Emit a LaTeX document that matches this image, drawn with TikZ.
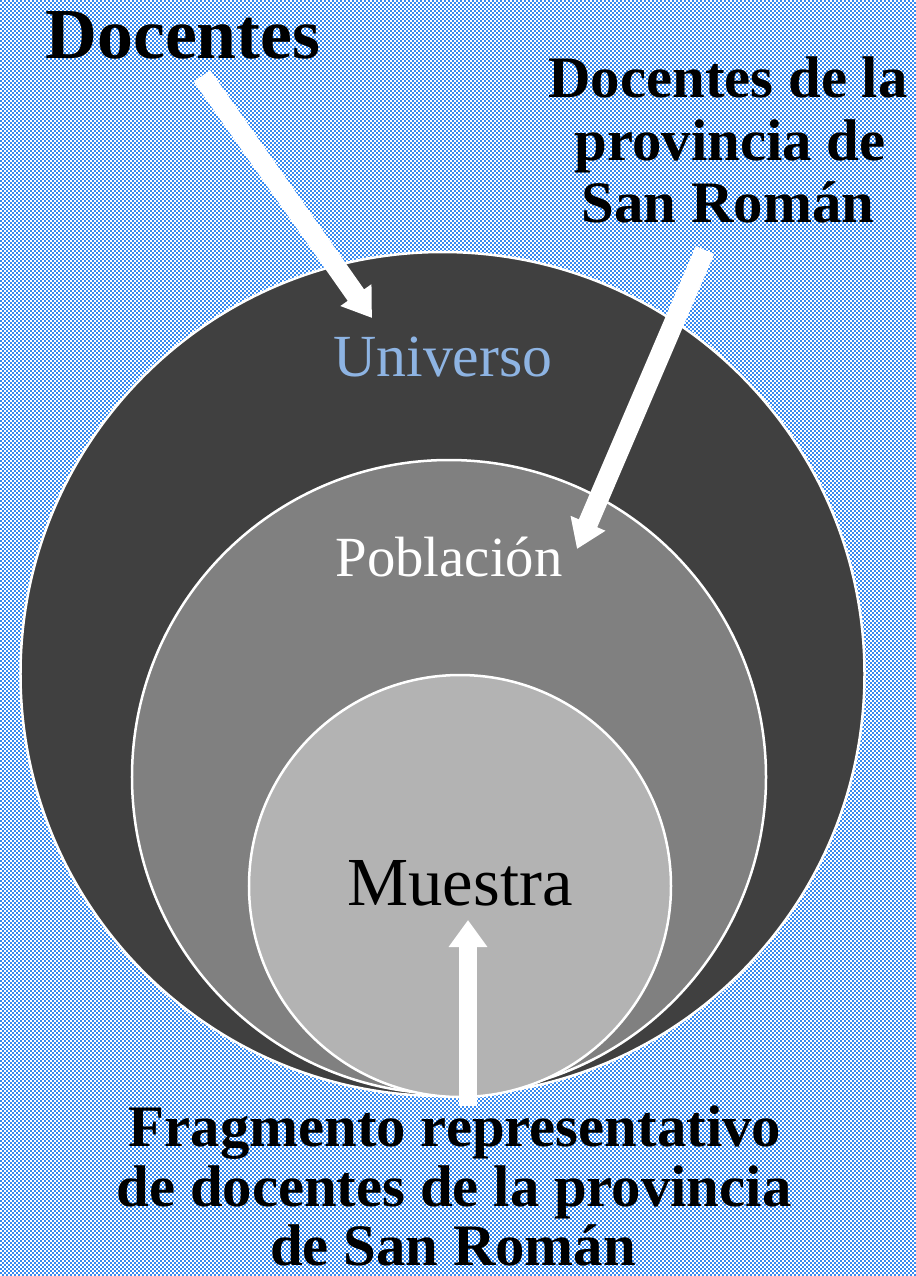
\documentclass[tikz,border=0pt]{standalone}
\usepackage{fontspec}
\setmainfont{Liberation Serif}
\usetikzlibrary{arrows.meta}
\definecolor{bgblue}{RGB}{55,138,240}
\definecolor{darkc}{RGB}{64,64,64}
\definecolor{midc}{RGB}{128,128,128}
\definecolor{lightc}{RGB}{179,179,179}
\definecolor{unicol}{RGB}{142,180,227}
\begin{document}
\begin{tikzpicture}[x=1bp,y=-1bp,
  ring/.style={circle, draw=white, line width=2.5bp, inner sep=0pt},
  lbl/.style={anchor=base, inner sep=0pt},
  bigbold/.style={lbl, font=\fontsize{72}{86}\selectfont\bfseries},
  sidebold/.style={lbl, font=\fontsize{59}{70}\selectfont\bfseries},
  botbold/.style={lbl, font=\fontsize{59}{70}\selectfont\bfseries},
  checkrow/.style={bgblue, line width=2bp, line cap=butt, dash pattern=on 2bp off 2bp},
  blockarrow/.style={draw=white, fill=white, line width=20bp, -{Triangle[width=36bp,length=28bp]}}
]
\useasboundingbox (0,0) rectangle (916,1276);
\fill[white] (0,0) rectangle (916,1276);
% checkerboard background
\foreach \i in {0,...,637}{
  \pgfmathtruncatemacro\ph{mod(\i,2)*2}
  \draw[checkrow, dash phase=\ph bp] (0,2*\i+1) -- (916,2*\i+1);
}

% circles
\node[ring, fill=darkc, minimum size=844bp] (universo) at (442.5,674) {};
\node[ring, fill=midc, minimum size=634bp] (poblacion) at (449,777) {};
\node[ring, fill=lightc, minimum size=422bp] (muestra) at (460,886) {};

% circle labels
\node[lbl, text=unicol, font=\fontsize{60}{72}\selectfont] (tuni) at (443,376) {Universo};
\node[lbl, text=white, font=\fontsize{57}{68}\selectfont] (tpob) at (449,576) {Población};
\node[lbl, text=black, font=\fontsize{69}{80}\selectfont] (tmue) at (460,905) {Muestra};

% outside labels
\node[bigbold] (tdoc) at (183,58) {Docentes};
\node[sidebold] (tsr1) at (728,97) {Docentes de la};
\node[sidebold] (tsr2) at (730,160) {provincia de};
\node[sidebold] (tsr3) at (728,222) {San Román};
\node[botbold] (tfr1) at (455,1146) {Fragmento representativo};
\node[botbold] (tfr2) at (454,1206) {de docentes de la provincia};
\node[botbold] (tfr3) at (453,1265) {de San Román};

% arrows
\coordinate (a1s) at (202,76);
\coordinate (a1e) at (372,318);
\coordinate (a2s) at (705,250);
\coordinate (a2e) at (577,549);
\coordinate (a3s) at (468,1106);
\coordinate (a3e) at (468,920);
\draw[blockarrow] (a1s) -- (a1e);
\draw[blockarrow] (a2s) -- (a2e);
\draw[blockarrow, line width=18bp, -{Triangle[width=37bp,length=27bp]}] (a3s) -- (a3e);
\end{tikzpicture}
\end{document}
